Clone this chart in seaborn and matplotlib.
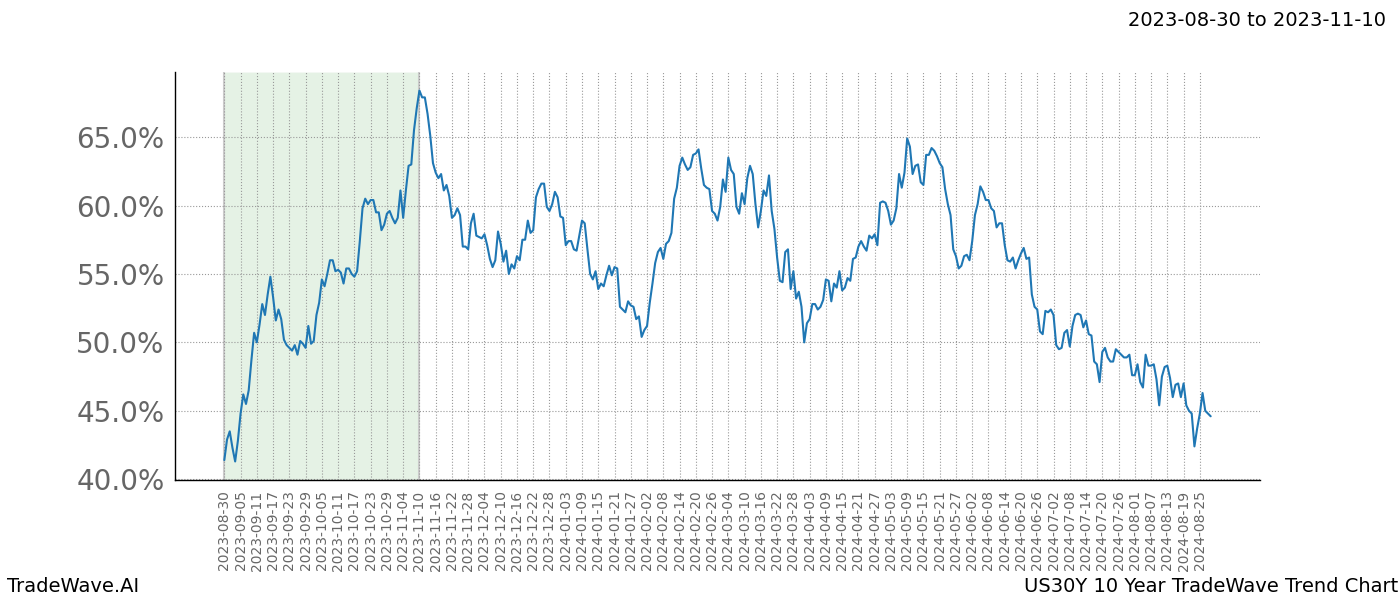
import matplotlib
matplotlib.use("Agg")
import matplotlib.pyplot as plt
import seaborn as sns
import numpy as np
import pandas as pd
from matplotlib.ticker import FuncFormatter

# ---- data ----
trend_values = [
    41.4, 42.9, 43.5, 42.3, 41.3, 42.8, 44.8, 46.2, 45.5, 46.5,
    48.7, 50.7, 50.0, 51.3, 52.8, 52.0, 53.5, 54.8, 53.3, 51.6,
    52.4, 51.7, 50.2, 49.8, 49.6, 49.4, 49.8, 49.1, 50.1, 49.9,
    49.6, 51.2, 49.9, 50.1, 52.0, 52.9, 54.6, 54.1, 55.0, 56.0,
    56.0, 55.2, 55.3, 55.1, 54.3, 55.4, 55.4, 55.0, 54.8, 55.2,
    57.4, 59.8, 60.5, 60.1, 60.4, 60.4, 59.5, 59.5, 58.2, 58.6,
    59.4, 59.6, 59.1, 58.7, 59.1, 61.1, 59.1, 61.1, 62.9, 63.0,
    65.5, 67.1, 68.4, 67.9, 67.9, 66.7, 65.1, 63.1, 62.4, 62.0,
    62.3, 61.1, 61.5, 60.7, 59.1, 59.3, 59.8, 59.3, 57.0, 57.0,
    56.8, 58.7, 59.4, 57.8, 57.7, 57.6, 57.9, 57.1, 56.1, 55.5,
    56.0, 58.1, 57.2, 55.9, 56.7, 55.0, 55.7, 55.4, 56.3, 56.0,
    57.5, 57.5, 58.9, 58.0, 58.2, 60.6, 61.2, 61.6, 61.6, 59.9,
    59.6, 60.1, 61.0, 60.6, 59.2, 59.1, 57.1, 57.4, 57.4, 56.8,
    56.7, 57.8, 58.9, 58.7, 56.8, 55.0, 54.6, 55.2, 53.9, 54.3,
    54.1, 54.9, 55.6, 54.9, 55.5, 55.4, 52.6, 52.4, 52.2, 53.0,
    52.7, 52.6, 51.7, 51.9, 50.4, 50.9, 51.2, 52.9, 54.3, 55.8,
    56.6, 56.9, 56.1, 57.2, 57.4, 58.0, 60.5, 61.3, 62.9, 63.5,
    63.0, 62.6, 62.8, 63.7, 63.8, 64.1, 62.7, 61.5, 61.3, 61.2,
    59.6, 59.4, 58.9, 59.9, 61.9, 61.0, 63.5, 62.6, 62.3, 59.9,
    59.4, 60.9, 60.1, 62.0, 62.9, 62.3, 60.1, 58.4, 59.6, 61.1,
    60.7, 62.2, 59.6, 58.3, 56.2, 54.5, 54.4, 56.6, 56.8, 53.9,
    55.2, 53.2, 53.7, 52.6, 50.0, 51.4, 51.7, 52.8, 52.8, 52.4,
    52.6, 53.1, 54.6, 54.5, 53.0, 54.3, 54.0, 55.2, 53.8, 54.0,
    54.7, 54.5, 56.1, 56.2, 57.0, 57.4, 57.0, 56.7, 57.8, 57.6,
    57.9, 57.1, 60.2, 60.3, 60.2, 59.6, 58.6, 58.9, 59.8, 62.3,
    61.3, 62.4, 64.9, 64.3, 62.3, 62.9, 63.0, 61.7, 61.5, 63.7,
    63.7, 64.2, 64.0, 63.6, 63.1, 62.8, 61.2, 60.1, 59.3, 56.8,
    56.3, 55.4, 55.6, 56.3, 56.4, 56.0, 57.4, 59.3, 60.1, 61.4,
    61.0, 60.4, 60.4, 59.8, 59.6, 58.4, 58.7, 58.7, 57.1, 56.0,
    55.9, 56.2, 55.4, 56.0, 56.5, 56.9, 56.1, 56.2, 53.5, 52.6,
    52.4, 50.8, 50.6, 52.3, 52.2, 52.4, 52.0, 49.8, 49.5, 49.6,
    50.7, 50.9, 49.7, 51.2, 52.0, 52.1, 52.0, 51.1, 51.6, 50.6,
    50.5, 48.6, 48.4, 47.1, 49.3, 49.6, 48.9, 48.6, 48.6, 49.5,
    49.3, 49.1, 48.9, 48.9, 49.1, 47.6, 47.6, 48.4, 47.1, 46.7,
    49.1, 48.3, 48.3, 48.4, 47.3, 45.4, 47.5, 48.2, 48.3, 47.4,
    46.0, 46.9, 47.0, 46.0, 47.0, 45.4, 45.0, 44.8, 42.4, 43.7,
    44.8, 46.3, 45.0, 44.8, 44.6,
]

tick_labels = [
    "2023-08-30", "2023-09-05", "2023-09-11", "2023-09-17", "2023-09-23", "2023-09-29",
    "2023-10-05", "2023-10-11", "2023-10-17", "2023-10-23", "2023-10-29", "2023-11-04",
    "2023-11-10", "2023-11-16", "2023-11-22", "2023-11-28", "2023-12-04", "2023-12-10",
    "2023-12-16", "2023-12-22", "2023-12-28", "2024-01-03", "2024-01-09", "2024-01-15",
    "2024-01-21", "2024-01-27", "2024-02-02", "2024-02-08", "2024-02-14", "2024-02-20",
    "2024-02-26", "2024-03-04", "2024-03-10", "2024-03-16", "2024-03-22", "2024-03-28",
    "2024-04-03", "2024-04-09", "2024-04-15", "2024-04-21", "2024-04-27", "2024-05-03",
    "2024-05-09", "2024-05-15", "2024-05-21", "2024-05-27", "2024-06-02", "2024-06-08",
    "2024-06-14", "2024-06-20", "2024-06-26", "2024-07-02", "2024-07-08", "2024-07-14",
    "2024-07-20", "2024-07-26", "2024-08-01", "2024-08-07", "2024-08-13", "2024-08-19",
    "2024-08-25",
]
tick_step = 6                      # one label every 6 observations
highlight_start_label = "2023-08-30"
highlight_end_label = "2023-11-10"
y_ticks = [40, 45, 50, 55, 60, 65]

title_text = "2023-08-30 to 2023-11-10"
left_footer = "TradeWave.AI"
right_footer = "US30Y 10 Year TradeWave Trend Chart"

# ---- build frame ----
df = pd.DataFrame({"idx": np.arange(len(trend_values)), "value": trend_values})
tick_pos = np.arange(len(tick_labels)) * tick_step
hl_start = tick_pos[tick_labels.index(highlight_start_label)]
hl_end = tick_pos[tick_labels.index(highlight_end_label)]

sns.set_style("white")
plt.rcParams["font.family"] = ["DejaVu Sans"]

fig = plt.figure(figsize=(14, 6), dpi=100)
ax = fig.add_axes([0.125, 0.2, 0.775, 0.68])

ax.axvspan(hl_start, hl_end, facecolor="green", alpha=0.1, zorder=0)
ax.axvline(hl_start, color="#cccccc", lw=1.5, zorder=0.5)
ax.axvline(hl_end, color="#cccccc", lw=1.5, zorder=0.5)

sns.lineplot(data=df, x="idx", y="value", ax=ax, color="#1f77b4", linewidth=1.5, zorder=3)

ax.set_xticks(tick_pos)
ax.set_xticklabels(tick_labels, rotation=90, fontsize=10, color="#666666")
ax.set_yticks(y_ticks)
ax.yaxis.set_major_formatter(FuncFormatter(lambda v, p: f"{v:.1f}%"))
ax.tick_params(axis="y", labelsize=20, labelcolor="#666666", length=4, color="black")
ax.tick_params(axis="x", length=4, color="black")

ax.grid(True, which="major", axis="both", linestyle=":", color="#999999", linewidth=0.8)
ax.set_axisbelow(True)
ax.margins(x=0.05, y=0.05)

for s in ["top", "right"]:
    ax.spines[s].set_visible(False)
for s in ["left", "bottom"]:
    ax.spines[s].set_color("black")
    ax.spines[s].set_linewidth(1.0)

ax.set_xlabel("")
ax.set_ylabel("")

fig.text(0.99, 0.965, title_text, ha="right", va="center", fontsize=14, color="black")
fig.text(0.005, 0.022, left_footer, ha="left", va="center", fontsize=14, color="black")
fig.text(0.999, 0.022, right_footer, ha="right", va="center", fontsize=14, color="black")

fig.savefig("out.png", dpi=100)
